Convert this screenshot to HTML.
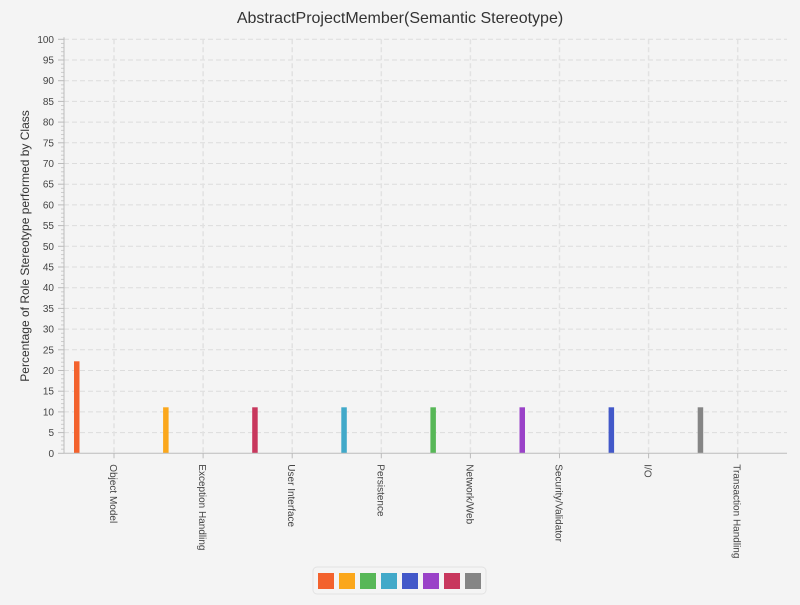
<!DOCTYPE html>
<html><head><meta charset="utf-8"><style>
body{margin:0;background:#f4f4f4;font-family:"Liberation Sans",sans-serif}
</style></head><body>
<svg width="800" height="600" xmlns="http://www.w3.org/2000/svg" id="svg">
<rect width="800" height="600" fill="#f4f4f4"/>
<text x="400" y="23" text-anchor="middle" font-size="16" fill="#333">AbstractProjectMember(Semantic Stereotype)</text>
<text transform="translate(29,246) rotate(-90)" text-anchor="middle" font-size="12" fill="#333">Percentage of Role Stereotype performed by Class</text>
<g id="g"></g>
<rect x="313" y="567" width="173" height="27" rx="4" fill="#f4f4f4" stroke="#e2e2e2"/>
<g id="leg"></g>
</svg>
<script>
const categories=["Object Model","Exception Handling","User Interface","Persistence","Network/Web","Security/Validator","I/O","Transaction Handling"];
const values=[22.22,11.11,11.11,11.11,11.11,11.11,11.11,11.11];
const barColors=["#f3622d","#fba71b","#c8375d","#41a9c9","#57b757","#9a42c8","#4258c9","#858585"];
const legendColors=["#f3622d","#fba71b","#57b757","#41a9c9","#4258c9","#9a42c8","#c8375d","#858585"];
const yTicks=[0,5,10,15,20,25,30,35,40,45,50,55,60,65,70,75,80,85,90,95,100];
const NS="http://www.w3.org/2000/svg";
const g=document.getElementById('g');
const x0=64,x1=787,yTop=39.3,yBot=453.3;
const y=v=>yBot-(v/100)*(yBot-yTop);
const step=89.1,c0=114;
const xc=i=>c0+step*i;
function mk(t,a,p){const e=document.createElementNS(NS,t);for(const k in a)e.setAttribute(k,a[k]);(p||g).appendChild(e);return e;}
yTicks.forEach(v=>{
 if(v>0){const l=mk('line',{x1:x0,x2:x1,y1:y(v),y2:y(v),stroke:'#dcdcdc','stroke-dasharray':'5,3'});
 
 }
 const t=mk('line',{x1:58,x2:x0,y1:y(v),y2:y(v),stroke:'#bbb'});
 
 
 const tx=mk('text',{x:54,y:y(v)+3.5,'text-anchor':'end','font-size':'10',fill:'#444'});
 tx.textContent=v;
 
 
});
for(let v=0;v<100;v++){if(v%5){const m=mk('line',{x1:61,x2:x0,y1:y(v),y2:y(v),stroke:'#ccc'});
 
 }}
categories.forEach((c,i)=>{
 const l=mk('line',{x1:xc(i),x2:xc(i),y1:yTop,y2:yBot,stroke:'#e2e2e2','stroke-dasharray':'5,3','stroke-width':'1.5'});
 
 
 const tk=mk('line',{x1:xc(i),x2:xc(i),y1:yBot,y2:yBot+5,stroke:'#bbb'});
 
 
 const t=mk('text',{transform:`translate(${xc(i)-4},${yBot+11}) rotate(90)`,'font-size':'10',fill:'#444'});
 t.textContent=c;
 
 
 const b=mk('rect',{x:xc(i)-40,y:y(values[i]),width:5.5,height:yBot-y(values[i]),fill:barColors[i]});
 
 
});
const ax=mk('line',{x1:x0,x2:x0,y1:yTop-2,y2:yBot,stroke:'#bbb'});


const bx=mk('line',{x1:x0,x2:x1,y1:yBot,y2:yBot,stroke:'#bbb'});


const leg=document.getElementById('leg');
legendColors.forEach((c,i)=>{
 const r=mk('rect',{x:318+21*i,y:573,width:16,height:16,fill:c},leg);
 
 
});
</script>
</body></html>
